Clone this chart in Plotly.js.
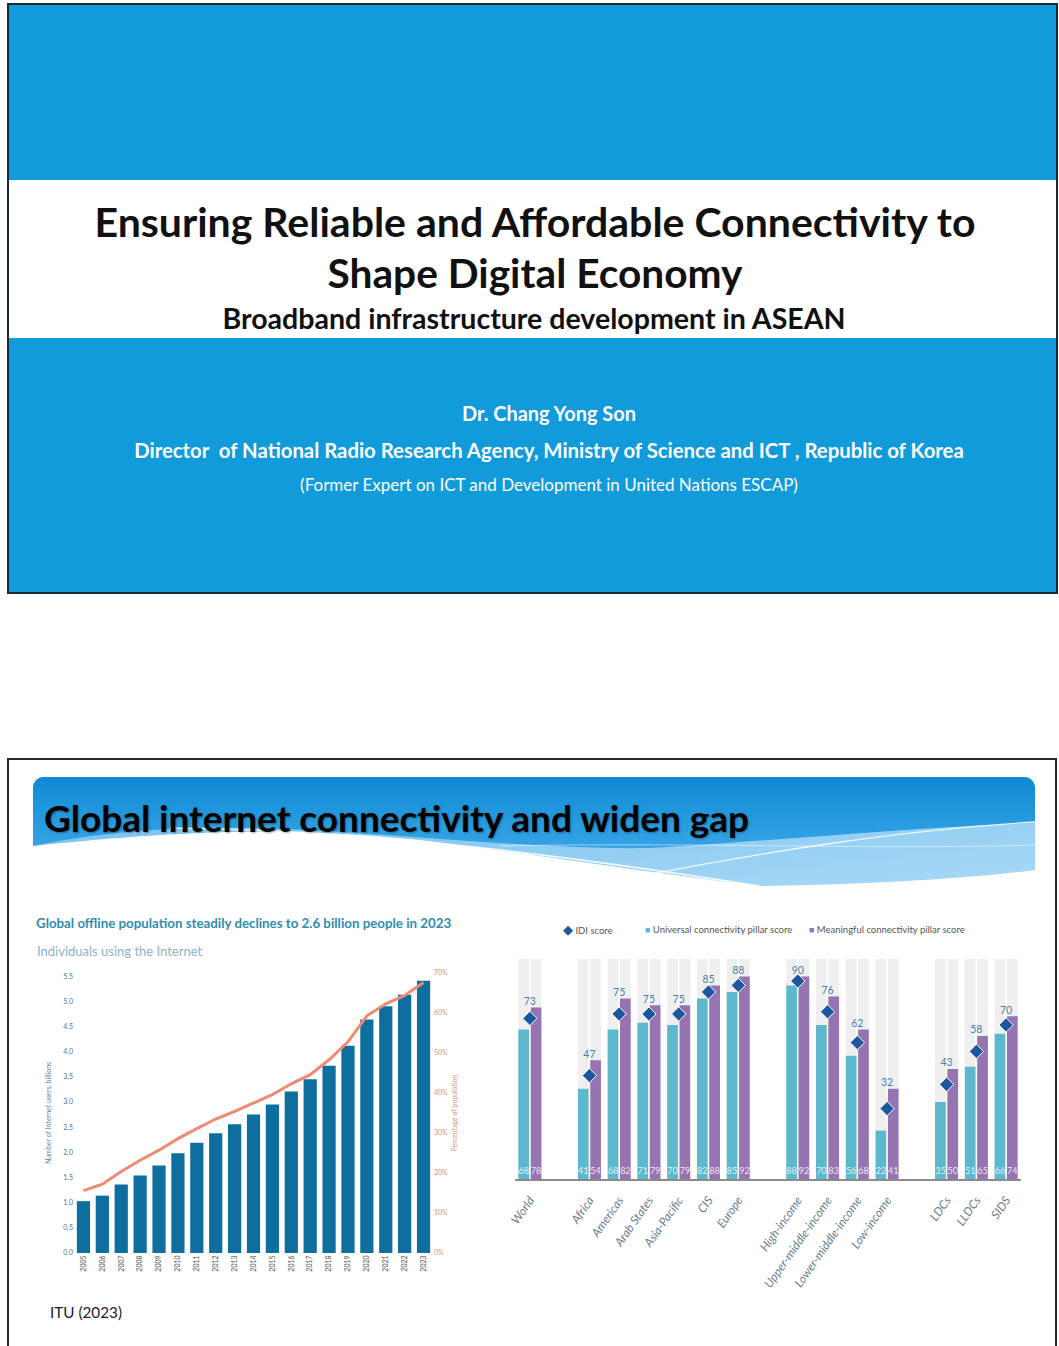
<!DOCTYPE html>
<html>
<head>
<meta charset="utf-8">
<script src="https://cdn.plot.ly/plotly-3.0.1.min.js"></script>
<style>
  html,body{margin:0;padding:0;background:#fff;}
  body{width:1059px;height:1346px;position:relative;overflow:hidden;font-family:Lato,"Open Sans",sans-serif;}
  .abs{position:absolute;}
  .t{position:absolute;white-space:pre;line-height:1;display:inline-block;}
  .c{transform:translate(-50%,-50%);}
  .l{transform:translate(0,-50%);}
</style>
</head>
<body>
<script>
// ---------- DATA ----------
// Left chart: individuals using the Internet
const years = ['2005','2006','2007','2008','2009','2010','2011','2012','2013','2014','2015','2016','2017','2018','2019','2020','2021','2022','2023'];
const usersBillions = [1.03,1.14,1.36,1.54,1.74,1.98,2.19,2.38,2.56,2.75,2.95,3.21,3.45,3.72,4.12,4.64,4.90,5.13,5.41];
const pctPopulation = [15.6,17.2,20.4,23.2,25.7,28.6,31.1,33.5,35.4,37.6,39.6,42.3,44.6,48.3,52.8,59.3,62.3,64.4,67.6];

// Right chart: IDI scores
const groups = ['World','Africa','Americas','Arab States','Asia-Pacific','CIS','Europe','High-income','Upper-middle-income','Lower-middle-income','Low-income','LDCs','LLDCs','SIDS'];
const categoryOrder = ['World',' ','Africa','Americas','Arab States','Asia-Pacific','CIS','Europe','  ','High-income','Upper-middle-income','Lower-middle-income','Low-income','   ','LDCs','LLDCs','SIDS'];
const idiScore = [73,47,75,75,75,85,88,90,76,62,32,43,58,70];
const universalScore = [68,41,68,71,70,82,85,88,70,56,22,35,51,66];
const meaningfulScore = [78,54,82,79,79,88,92,92,83,68,41,50,65,74];
const maxScore = 100;
const legendNames = ['IDI score','Universal connectivity pillar score','Meaningful connectivity pillar score'];
</script>

<!-- Slide 1 -->
<div class="abs" style="left:7px;top:3px;width:1051px;height:591px;border:2px solid #1b2836;box-sizing:border-box;background:#fff;"></div>
<div class="abs" style="left:9px;top:5px;width:1047px;height:175px;background:#119bdb;"></div>
<div class="abs" style="left:9px;top:338px;width:1047px;height:254px;background:#119bdb;"></div>

<!-- Slide 2 frame -->
<div class="abs" style="left:7px;top:758px;width:1050px;height:600px;border:2px solid #2a2a2a;box-sizing:border-box;background:#fff;"></div>

<!-- Banner decoration -->
<svg class="abs" style="left:0;top:0" width="1059" height="1346">
  <defs>
    <linearGradient id="gb" x1="0" y1="0" x2="0" y2="1">
      <stop offset="0" stop-color="#0f8ad4"/>
      <stop offset="1" stop-color="#36a4e5"/>
    </linearGradient>
    <linearGradient id="gl" x1="0" y1="0" x2="1" y2="1">
      <stop offset="0" stop-color="#6dbdee"/>
      <stop offset="1" stop-color="#a9d9f6"/>
    </linearGradient>
    <clipPath id="bc"><rect x="33" y="777" width="1002" height="130" rx="11"/></clipPath>
  </defs>
  <g clip-path="url(#bc)">
    <path d="M33,777 H1035 V870 C990,876 900,884 760,886 C640,872 520,852 420,840 C300,828 200,828 33,846 Z" fill="url(#gl)"/>
    <path d="M33,777 H1035 V823 C900,828 760,842 650,848 C530,850 390,832 260,828 C160,826 90,834 33,846 Z" fill="url(#gb)"/>
    <path d="M170,828 C380,830 580,858 760,886" stroke="#ffffff" stroke-width="1.6" fill="none" opacity="0.85"/>
    <path d="M600,884 C760,852 900,830 1035,822" stroke="#ffffff" stroke-width="1.3" fill="none" opacity="0.85"/>
    <path d="M500,846 C700,842 880,850 1035,845" stroke="#ffffff" stroke-width="1" fill="none" opacity="0.5"/>
  </g>
</svg>

<!-- Texts -->
<div class="t c" data-w="881" style="left:535px;top:221px;font-weight:700;color:#111;font-size:36px;">Ensuring Reliable and Affordable Connectivity to</div>
<div class="t c" data-w="415" style="left:535px;top:273px;font-weight:700;color:#111;font-size:36px;">Shape Digital Economy</div>
<div class="t c" data-w="623" style="left:534px;top:318px;font-weight:700;color:#111;font-size:24px;">Broadband infrastructure development in ASEAN</div>
<div class="t c" data-w="174" style="left:549px;top:414px;font-weight:700;color:#fff;font-size:18px;">Dr. Chang Yong Son</div>
<div class="t c" data-w="830" style="left:549px;top:450px;font-weight:700;color:#fff;font-size:18px;">Director  of National Radio Research Agency, Ministry of Science and ICT , Republic of Korea</div>
<div class="t c" data-w="498" style="left:549px;top:485px;font-weight:400;color:#fff;font-size:16px;">(Former Expert on ICT and Development in United Nations ESCAP)</div>
<div class="t l" data-w="705" style="left:44px;top:818px;font-weight:700;color:#000;font-size:32px;text-shadow:1px 1px 2px rgba(0,0,0,0.35);">Global internet connectivity and widen gap</div>
<div class="t l" data-w="72" style="left:50px;top:1313px;font-weight:400;color:#222;font-size:15px;">ITU (2023)</div>

<div id="c1" class="abs" style="left:20px;top:905px;width:475px;height:400px;"></div>
<div id="c2" class="abs" style="left:495px;top:905px;width:545px;height:410px;"></div>

<script>
function fitTexts(){
  document.querySelectorAll('.t[data-w]').forEach(el=>{
    const target = parseFloat(el.dataset.w);
    const w = el.getBoundingClientRect().width;
    const fs = parseFloat(getComputedStyle(el).fontSize);
    if (w > 0) el.style.fontSize = (fs * target / w) + 'px';
  });
}
if (document.fonts && document.fonts.ready) { document.fonts.ready.then(fitTexts); } else { fitTexts(); }
fitTexts();

const FONT = 'Lato, "Open Sans", sans-serif';
const COL_U = '#5cb8cd', COL_M = '#9674b1', COL_IDI = '#1c55a0';

// ---------- Left chart ----------
const t1 = [
  {type:'bar', x:years, y:usersBillions, marker:{color:'#0e6f9f'}, hoverinfo:'x+y'},
  {type:'scatter', mode:'lines', x:years, y:pctPopulation, yaxis:'y2', line:{color:'#ee8b74', width:3}, hoverinfo:'x+y'}
];
const l1 = {
  width:475, height:400,
  margin:{l:54, r:62, t:68, b:52, autoexpand:false},
  paper_bgcolor:'rgba(0,0,0,0)', plot_bgcolor:'rgba(0,0,0,0)',
  showlegend:false, bargap:0.3,
  font:{family:FONT},
  title:{text:'<b>Global offline population steadily declines to 2.6 billion people in 2023</b>',
         font:{family:FONT, size:13.3, color:'#2e8eae'},
         x:0.0337, xref:'container', xanchor:'left', y:0.955, yref:'container', yanchor:'middle'},
  annotations:[{text:'Individuals using the Internet', xref:'paper', yref:'paper', x:-0.1098, y:1.0786,
                xanchor:'left', yanchor:'middle', showarrow:false, font:{family:FONT, size:13, color:'#8cb2c6'}}],
  xaxis:{type:'category', tickangle:-90, tickfont:{size:7, color:'#555'}, showline:false, ticks:'', showgrid:false, zeroline:false},
  yaxis:{range:[0,5.563], dtick:0.5, tick0:0, tickformat:'.1f', showgrid:false, zeroline:false, ticks:'',
         tickfont:{size:7, color:'#4d7490'},
         title:{text:'Number of Internet users, billions', font:{size:7, color:'#5e87a3'}, standoff:10}},
  yaxis2:{overlaying:'y', side:'right', range:[0,70], dtick:10, tick0:0, ticksuffix:'%', showgrid:false, zeroline:false, ticks:'',
          tickfont:{size:7, color:'#e0907a'},
          title:{text:'Percentage of population', font:{size:7, color:'#e0907a'}, standoff:4}}
};
Plotly.newPlot('c1', t1, l1, {displayModeBar:false, staticPlot:true});

// ---------- Right chart ----------
const labelY = groups.map((g,i)=>Math.max(universalScore[i], meaningfulScore[i]));
const bg = groups.map(()=>maxScore);
const t2 = [
  {type:'bar', x:groups, y:bg, offsetgroup:'u', marker:{color:'#efefef'}, showlegend:false, hoverinfo:'skip'},
  {type:'bar', x:groups, y:bg, offsetgroup:'m', marker:{color:'#efefef'}, showlegend:false, hoverinfo:'skip'},
  {type:'bar', name:legendNames[1], x:groups, y:universalScore, offsetgroup:'u',
   marker:{color:COL_U}, text:universalScore.map(String), textposition:'inside', insidetextanchor:'start',
   textangle:0, constraintext:'none', textfont:{family:FONT, size:9, color:'rgba(255,255,255,0.85)'}},
  {type:'bar', name:legendNames[2], x:groups, y:meaningfulScore, offsetgroup:'m',
   marker:{color:COL_M}, text:meaningfulScore.map(String), textposition:'inside', insidetextanchor:'start',
   textangle:0, constraintext:'none', textfont:{family:FONT, size:9, color:'rgba(255,255,255,0.85)'}},
  {type:'scatter', mode:'markers', name:legendNames[0], x:groups, y:idiScore,
   marker:{symbol:'diamond', size:11, color:COL_IDI, line:{color:'#ffffff', width:1}}},
  {type:'scatter', mode:'text', x:groups, y:labelY, text:idiScore.map(String), textposition:'top center',
   textfont:{family:FONT, size:10.5, color:'#4a7faa'}, cliponaxis:false, hoverinfo:'skip'}
];
// plot area: x 515..1021 (506 px), y 959..1179 (220 px)
const PW = 506, PL = 515, PT = 959, PH = 220;
const px2x = p => (p - PL) / PW;
const py2y = p => 1 + (PT - p) / PH;
const legY = py2y(929);
const legendAnn = [
  {x:px2x(561), html:`<span style="color:${COL_IDI};font-size:13px">◆</span> ${legendNames[0]}`},
  {x:px2x(643), html:`<span style="color:${COL_U};font-size:9px">■</span> ${legendNames[1]}`},
  {x:px2x(807), html:`<span style="color:${COL_M};font-size:9px">■</span> ${legendNames[2]}`}
].map(a=>({text:a.html, x:a.x, y:legY, xref:'paper', yref:'paper', xanchor:'left', yanchor:'middle',
           showarrow:false, font:{family:FONT, size:9.5, color:'#555'}}));
const l2 = {
  width:545, height:410,
  margin:{l:20, r:19, t:54, b:136, autoexpand:false},
  paper_bgcolor:'rgba(0,0,0,0)', plot_bgcolor:'rgba(0,0,0,0)',
  showlegend:false,
  barmode:'group', bargap:0.17, bargroupgap:0.135,
  font:{family:FONT},
  xaxis:{type:'category', categoryorder:'array', categoryarray:categoryOrder, range:[-0.5, categoryOrder.length - 0.5],
         tickangle:-55, tickfont:{family:FONT, size:12, color:'#6d7c8c', style:'italic'},
         showline:true, linecolor:'#8a8a8a', linewidth:1.5, ticks:'', showgrid:false, zeroline:false, ticklabelstandoff:8},
  yaxis:{range:[0,100], visible:false},
  annotations:legendAnn
};
Plotly.newPlot('c2', t2, l2, {displayModeBar:false, staticPlot:true});
</script>
</body>
</html>
